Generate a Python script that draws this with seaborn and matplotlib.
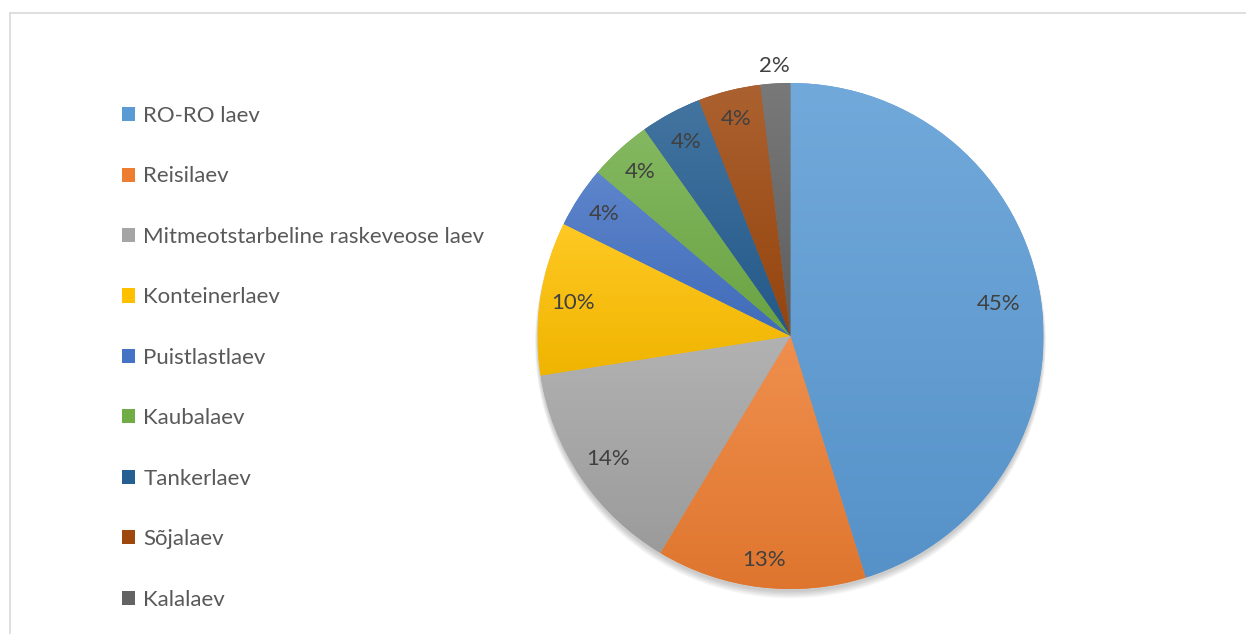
import numpy as np
import matplotlib
matplotlib.use("Agg")
import matplotlib.pyplot as plt
import seaborn as sns
from matplotlib.patches import Patch, Circle
from matplotlib.lines import Line2D
from matplotlib.colors import to_rgb

# Ship types and their share of port calls (%)
categories = [
    "RO-RO laev",
    "Reisilaev",
    "Mitmeotstarbeline raskeveose laev",
    "Konteinerlaev",
    "Puistlastlaev",
    "Kaubalaev",
    "Tankerlaev",
    "Sõjalaev",
    "Kalalaev",
]
shares = [45.2, 13.4, 13.9, 9.8, 3.9, 4.0, 3.9, 4.0, 1.9]

# Office-style theme colours
colors = ["#5B9BD5", "#ED7D31", "#A5A5A5", "#FFC000", "#4472C4",
          "#70AD47", "#255E91", "#9E480E", "#636363"]
# radial placement of the percentage labels (fraction of radius)
label_dist = [0.83, 0.89, 0.87, 0.87, 0.88, 0.88, 0.87, 0.885, 1.07]

sns.set_theme(style="white")
plt.rcParams["font.family"] = ["Lato", "DejaVu Sans"]

W, H = 1246, 634
fig = plt.figure(figsize=(W / 100, H / 100), dpi=100)
fig.patch.set_facecolor("white")

# pie axes: centre (790.5, 336) px, radius 253 px
R = 253
half = 1.1 * R
cx, cy = 790.5, H - 336
ax = fig.add_axes([(cx - half) / W, (cy - half) / H, 2 * half / W, 2 * half / H])

# soft drop shadow below the pie
for i in range(6):
    ax.add_patch(Circle((0, -0.012 - 0.003 * i), 1.0 + 0.002 * i,
                        facecolor="black", alpha=0.035, linewidth=0, zorder=0))

wedges, _ = ax.pie(shares, colors=colors, startangle=90, counterclock=False,
                   radius=1, wedgeprops=dict(linewidth=0))


def mix(c, t, target):
    c = np.array(to_rgb(c))
    return c + (np.array(target) - c) * t


# vertical gradient fill per slice: lighter at top, darker at bottom
for w, c in zip(wedges, colors):
    bb = w.get_path().get_extents(w.get_patch_transform())
    top = mix(c, 0.14, (1, 1, 1))
    bot = mix(c, 0.06, (0, 0, 0))
    t = np.linspace(0, 1, 256)[:, None]
    img = (top[None, :] * (1 - t) + bot[None, :] * t)[:, None, :]
    im = ax.imshow(img, extent=[bb.x0, bb.x1, bb.y0, bb.y1], origin="upper",
                   aspect="auto", interpolation="bilinear",
                   zorder=w.get_zorder() + 0.1)
    im.set_clip_path(w)

# percentage labels, rounded to whole percent
total = sum(shares)
for w, s, d in zip(wedges, shares, label_dist):
    ang = np.deg2rad((w.theta1 + w.theta2) / 2)
    ax.text(d * np.cos(ang), d * np.sin(ang), f"{100 * s / total:.0f}%",
            ha="center", va="center", fontsize=16, color="#404040", zorder=5)

ax.set_xlim(-1.1, 1.1)
ax.set_ylim(-1.1, 1.1)
ax.set_aspect("equal")
ax.axis("off")

# legend on the left
handles = [Patch(facecolor=c, edgecolor="none") for c in colors]
fig.legend(handles, categories, loc="upper left",
           bbox_to_anchor=(122 / W, 1 - 106 / H), frameon=False, fontsize=16,
           labelcolor="#595959", handlelength=0.6, handleheight=0.6,
           handletextpad=0.36, labelspacing=1.82, borderpad=0, borderaxespad=0)

# chart-area border (top and left edges)
fig.add_artist(Line2D([10 / W, 1], [1 - 13 / H, 1 - 13 / H],
                      transform=fig.transFigure, color="#D9D9D9", linewidth=1.2))
fig.add_artist(Line2D([10 / W, 10 / W], [0, 1 - 13 / H],
                      transform=fig.transFigure, color="#D9D9D9", linewidth=1.2))

fig.savefig("out.png", dpi=100, facecolor="white")
